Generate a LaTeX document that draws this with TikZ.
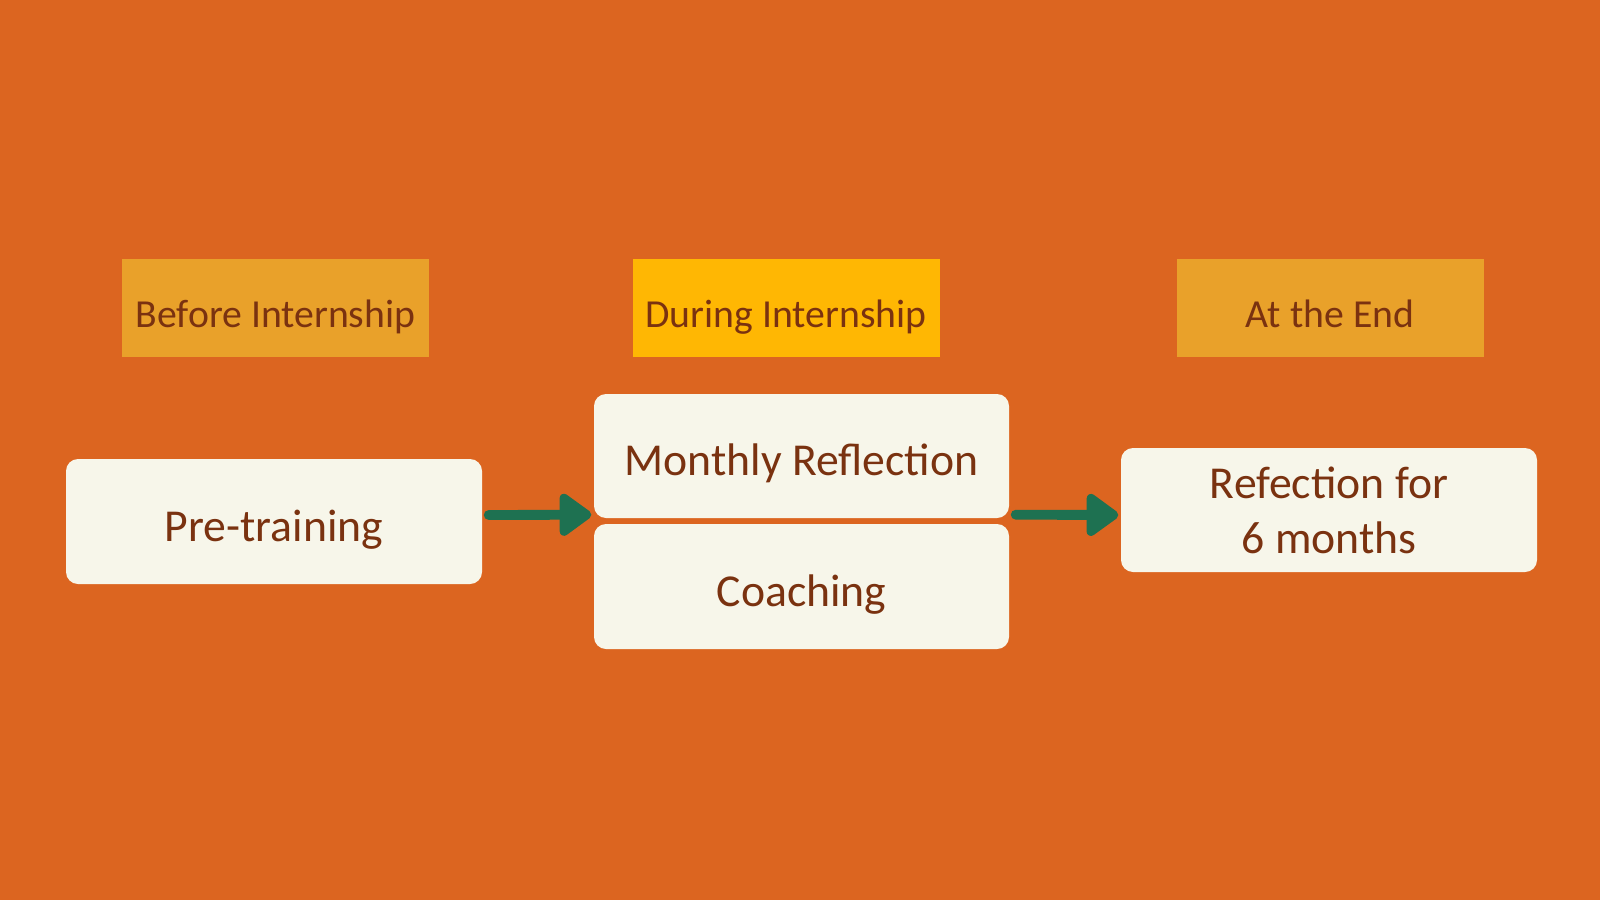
\documentclass[tikz,border=0pt]{standalone}
\usepackage{fontspec}
\setmainfont{Carlito}
\usepackage{xcolor}
\usetikzlibrary{arrows.meta,positioning}

\definecolor{bgorange}{HTML}{DC6520}
\definecolor{tagorange}{HTML}{E9A12A}
\definecolor{tagyellow}{HTML}{FFB703}
\definecolor{txtbrown}{HTML}{7A3210}
\definecolor{cream}{HTML}{F7F6EA}
\definecolor{arrgreen}{HTML}{1E7151}

\tikzset{
  tag/.style={rectangle,fill=tagorange,minimum width=3.07cm,minimum height=0.98cm,
    text=txtbrown,font=\fontsize{11.3}{13}\selectfont,inner sep=0pt,
    text height=0.39cm,text depth=0pt},
  stage/.style={rectangle,rounded corners=0.12cm,fill=cream,minimum width=4.15cm,
    minimum height=1.24cm,text=txtbrown,font=\fontsize{13}{15.6}\selectfont,
    align=center,inner sep=0pt},
  oneline/.style={text height=0.39cm,text depth=0pt},
  flow/.style={arrgreen,line width=2.8pt,line cap=round,
    -{Triangle[length=0.35cm,width=0.48cm,round]}}
}

\begin{document}
\begin{tikzpicture}
\fill[bgorange] (0,0) rectangle (16,9);
\useasboundingbox (0,0) rectangle (16,9);

% Phase labels
\node[tag] (before) at (2.755,5.92) {Before Internship};
\node[tag,fill=tagyellow] (during) at (7.86,5.92) {During Internship};
\node[tag] (atend) at (13.30,5.92) {At the End};

% Stages
\node[stage,oneline,minimum width=4.16cm,minimum height=1.25cm] (pre) at (2.74,3.785) {Pre-training};
\node[stage,oneline] (monthly) at (8.015,4.44) {Monthly Reflection};
\node[stage,oneline,minimum height=1.25cm] (coaching) at (8.015,3.135) {Coaching};
\node[stage,minimum width=4.16cm] (refl) at (13.29,3.90) {Refection for\\6 months};

\draw[flow] ([xshift=0.06cm,yshift=0.065cm]pre.east) -- ([xshift=-0.02cm,yshift=0.04cm]monthly.south west);
\draw[flow] ([xshift=0.06cm,yshift=0.04cm]monthly.south east) -- ([xshift=-0.02cm,yshift=-0.05cm]refl.west);

\end{tikzpicture}
\end{document}
